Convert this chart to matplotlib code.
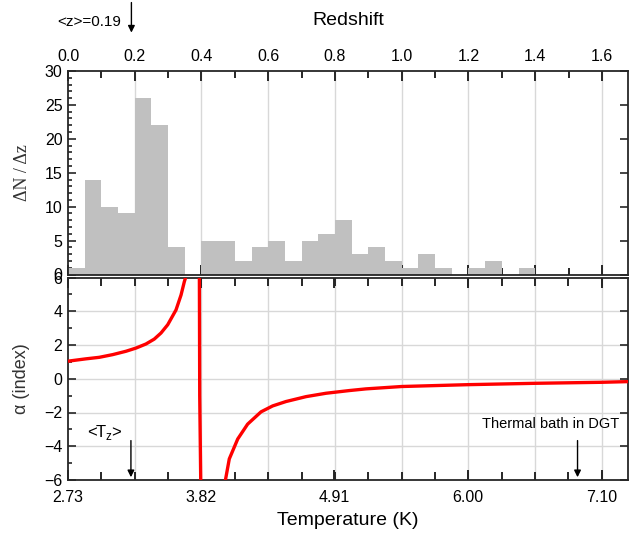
import numpy as np
import matplotlib
matplotlib.use("Agg")
import matplotlib.pyplot as plt
from matplotlib.ticker import FixedLocator, MultipleLocator

plt.rcParams['font.family'] = ['Liberation Sans', 'DejaVu Sans']

# ---------------- data ----------------
z_bin_left = [0.00, 0.05, 0.10, 0.15, 0.20, 0.25, 0.30, 0.35, 0.40, 0.45,
              0.50, 0.55, 0.60, 0.65, 0.70, 0.75, 0.80, 0.85, 0.90, 0.95,
              1.00, 1.05, 1.10, 1.15, 1.20, 1.25, 1.30, 1.35]
dn_dz = [1, 14, 10, 9, 26, 22, 4, 0, 5, 5,
         2, 4, 5, 2, 5, 6, 8, 3, 4, 2,
         1, 3, 1, 0, 1, 2, 0, 1]
bin_width = 0.05

left_T = [2.728, 2.877, 2.986, 3.096, 3.205, 3.287, 3.368, 3.436, 3.491,
          3.546, 3.614, 3.655, 3.682, 3.690, 3.697]
left_alpha = [1.04, 1.18, 1.27, 1.43, 1.63, 1.82, 2.06, 2.35, 2.71,
              3.20, 4.08, 4.96, 5.75, 5.94, 6.20]
pole_T = [3.805, 3.808, 3.817]
pole_alpha = [6.5, -1.0, -6.5]
right_T = [4.006, 4.017, 4.050, 4.119, 4.200, 4.310, 4.405, 4.514, 4.678, 4.841,
           5.032, 5.169, 5.461, 6.006, 6.552, 7.098, 7.313]
right_alpha = [-6.5, -6.06, -4.75, -3.57, -2.69, -1.96, -1.61, -1.35, -1.06, -0.86,
               -0.70, -0.60, -0.46, -0.35, -0.27, -0.21, -0.17]

z_ticks = [0.0, 0.2, 0.4, 0.6, 0.8, 1.0, 1.2, 1.4, 1.6]
z_tick_labels = ["0.0", "0.2", "0.4", "0.6", "0.8", "1.0", "1.2", "1.4", "1.6"]
T_ticks = [2.73, 3.82, 4.91, 6.00, 7.10]
T_tick_labels = ["2.73", "3.82", "4.91", "6.00", "7.10"]
mean_z = 0.19
mean_Tz = 3.245
bath_T = 6.90

# ---------------- figure ----------------
fig = plt.figure(figsize=(6.29, 5.35), dpi=100)
W, H = 629, 535
def ax_rect(x0, y0, x1, y1):
    return [x0 / W, 1 - y1 / H, (x1 - x0) / W, (y1 - y0) / H]

spine_c = '#262626'
grid_c = '#d8d8d8'
spine_w = 1.3

ax1 = fig.add_axes(ax_rect(68, 71, 628, 274.5))
ax2 = fig.add_axes(ax_rect(68, 277.5, 628, 480))

# ---- top histogram ----
ax1.bar(z_bin_left, dn_dz, width=bin_width, align='edge', color='#c0c0c0',
        edgecolor='none', zorder=2)
ax1.set_xlim(0, 1.678)
ax1.set_ylim(0, 30)
for zg in np.arange(0.2, 1.7, 0.2):
    ax1.axvline(zg, color=grid_c, lw=1.0, zorder=1)
ax1.xaxis.set_major_locator(FixedLocator(z_ticks))
ax1.xaxis.set_minor_locator(MultipleLocator(0.1))
ax1.xaxis.set_ticklabels(z_tick_labels)
ax1.tick_params(axis='x', which='both', direction='in', top=True, bottom=True,
                labeltop=True, labelbottom=False, labelsize=11.5, pad=5,
                color=spine_c, width=1.4)
ax1.tick_params(axis='x', which='major', length=7)
ax1.tick_params(axis='x', which='minor', length=5)
ax1.yaxis.set_major_locator(MultipleLocator(5))
ax1.yaxis.set_minor_locator(MultipleLocator(1))
ax1.tick_params(axis='y', which='both', direction='in', left=True, right=True,
                labelsize=11.5, pad=4, color=spine_c, width=1.2)
ax1.tick_params(axis='y', which='major', length=6)
ax1.tick_params(axis='y', which='minor', length=3, right=False)
ax1.set_xlabel('Redshift', fontsize=14, labelpad=17)
ax1.xaxis.set_label_position('top')
ax1.set_ylabel('ΔN / Δz', fontsize=13, family=['Liberation Serif', 'DejaVu Serif'],
               color='#333333', labelpad=10)
for s in ax1.spines.values():
    s.set_color(spine_c)
    s.set_linewidth(spine_w)

# ---- bottom alpha panel ----
ax2.set_xlim(2.73, 7.313)
ax2.set_ylim(-6, 6)
for tg in np.arange(2.73 + 0.546, 7.35, 0.546):
    ax2.axvline(tg, color=grid_c, lw=1.0, zorder=1)
for ag in [-4, -2, 0, 2, 4]:
    ax2.axhline(ag, color=grid_c, lw=1.0, zorder=1)
ax2.plot(left_T, left_alpha, color='red', lw=2.4, zorder=3, solid_capstyle='butt')
ax2.plot(pole_T, pole_alpha, color='red', lw=2.4, zorder=3, solid_capstyle='butt')
ax2.plot(right_T, right_alpha, color='red', lw=2.4, zorder=3, solid_capstyle='butt')

ax2.xaxis.set_major_locator(FixedLocator(T_ticks))
ax2.xaxis.set_ticklabels(T_tick_labels)
ax2.xaxis.set_minor_locator(FixedLocator(np.arange(2.73, 7.35, 0.273)))
ax2.tick_params(axis='x', which='both', direction='in', top=True, bottom=True,
                labelsize=11.5, pad=7, color=spine_c, width=1.4)
ax2.tick_params(axis='x', which='major', length=7)
ax2.tick_params(axis='x', which='minor', length=6)
ax2.yaxis.set_major_locator(MultipleLocator(2))
ax2.yaxis.set_minor_locator(MultipleLocator(1))
ax2.tick_params(axis='y', which='both', direction='in', left=True, right=True,
                labelsize=11.5, pad=4, color=spine_c, width=1.2)
ax2.tick_params(axis='y', which='major', length=6)
ax2.tick_params(axis='y', which='minor', length=3, right=False)
ax2.set_xlabel('Temperature (K)', fontsize=14, labelpad=5)
ax2.set_ylabel('α (index)', fontsize=13, color='#333333', labelpad=10)
for s in ax2.spines.values():
    s.set_color(spine_c)
    s.set_linewidth(spine_w)

# ---- annotations ----
ax1.annotate('', xy=(mean_z, 1.175), xycoords=('data', 'axes fraction'),
             xytext=(mean_z, 1.35), textcoords=('data', 'axes fraction'),
             arrowprops=dict(arrowstyle='-|>', color='black', lw=1.0,
                             mutation_scale=10), annotation_clip=False)
ax1.text(mean_z - 0.03, 1.24, '<z>=0.19', transform=ax1.get_xaxis_transform(),
         ha='right', va='center', fontsize=11)

ax2.annotate('', xy=(mean_Tz, -6), xytext=(mean_Tz, -3.5),
             arrowprops=dict(arrowstyle='-|>', color='black', lw=1.0,
                             mutation_scale=10))
ax2.text(mean_Tz - 0.07, -3.75, r'<T$_\mathregular{z}$>', ha='right', va='bottom',
         fontsize=12)

ax2.annotate('', xy=(bath_T, -6), xytext=(bath_T, -3.5),
             arrowprops=dict(arrowstyle='-|>', color='black', lw=1.0,
                             mutation_scale=10))
ax2.text(6.683, -2.7, 'Thermal bath in DGT', ha='center', va='center',
         fontsize=10.5)

fig.savefig('out.png', dpi=100)
